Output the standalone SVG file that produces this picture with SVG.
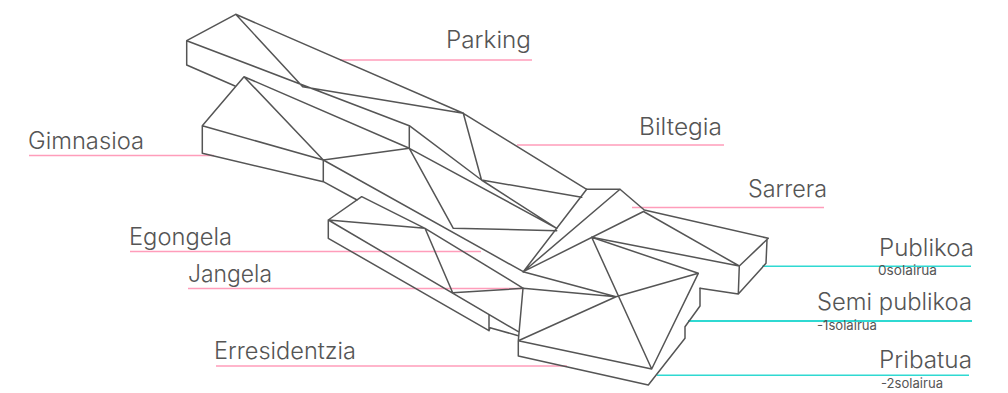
<svg xmlns="http://www.w3.org/2000/svg" width="1008" height="393" viewBox="0 0 1008 393">
<style>
.b{fill:none;stroke:#555;stroke-width:1.5;stroke-linejoin:round;stroke-linecap:round}
.p{fill:none;stroke:#ff9dba;stroke-width:1.4}
.t{fill:none;stroke:#2fd9d2;stroke-width:1.4}
.t2{stroke-width:2}
text{font-family:"Inter","Noto Sans","Liberation Sans",sans-serif;font-weight:300;fill:#555;font-size:23.500px}
.s{font-size:13px;font-weight:400}
</style>
<rect width="1008" height="393" fill="#fff"/>
<g id="connectors">
<path class="p" d="M340 60H532"/>
<path class="p" d="M517 145H724"/>
<path class="p" d="M632 207.500H824"/>
<path class="p" d="M29 155.500H214"/>
<path class="p" d="M130 251.500H481"/>
<path class="p" d="M188 288.500H523"/>
<path class="p" d="M216 366H567"/>
<path class="t" d="M762 266.300H971"/>
<path class="t t2" d="M688 321H972"/>
<path class="t" d="M657 375.300H969"/>
</g>
<g id="parking">
<path class="b" d="M235.700 14.300L186.700 40.700V65L235 86M235.700 14.300L463.300 113.300L302.700 86.700L235.700 14.300M186.700 40.700L409.300 125.700V148.300"/>
</g>
<g id="gimnasioa">
<path class="b" d="M244 76.700L202.300 125.700V153.300L323.300 181.700V160L202.300 125.700M244 76.700L323.300 160L409.300 148.300L244 76.700M323.300 181.700L357 200"/>
</g>
<g id="biltegia">
<path class="b" d="M463.300 113.300L586.700 189.300M463.300 113.300L481.500 180L581.700 197.300M409.300 125.700L481.500 180L556.700 228.300M409.300 148.300L556.700 228.300M409.300 148.300L453.300 228.300L556.700 230.700"/>
</g>
<g id="sarrera">
<path class="b" d="M586.700 189.300H620L644.300 210L768.300 238.300L739.300 266L738.300 294L766 263.300L767 240M586.700 189.300L523.300 271.700L620 189.300M523.300 271.700L643.500 211.500L739.300 266M591.700 237.300L739.300 266M738.300 294L700 288.300"/>
</g>
<g id="egongela">
<path class="b" d="M323.300 160L523.300 271.700M361.700 196.700L328.300 220V238.300L489 330.700V315M361.700 196.700L425 228.300L523.300 288.300M328.300 220L425 228.300L452.700 292.700L523.300 288.300M328.300 220L518.300 331.700M489 330.700L490 327.700L518.300 335.700"/>
</g>
<g id="erresidentzia">
<path class="b" d="M523 271.700L616 296.700L698.300 273.300L651.700 369L518.300 340.700L616 296.700L523 288.300L518.300 340.700V356L648.300 385L685 338.300V326.700L700 306V288.300M591.700 237.300L698.300 273.300M591.700 237.300L651.700 369"/>
</g>
<g id="label-parking"><text x="446" y="48" textLength="85" lengthAdjust="spacingAndGlyphs">Parking</text></g>
<g id="label-biltegia"><text x="639" y="135" textLength="83" lengthAdjust="spacingAndGlyphs">Biltegia</text></g>
<g id="label-sarrera"><text x="748" y="197" textLength="79" lengthAdjust="spacingAndGlyphs">Sarrera</text></g>
<g id="label-gimnasioa"><text x="28" y="148.500" textLength="116" lengthAdjust="spacingAndGlyphs">Gimnasioa</text></g>
<g id="label-egongela"><text x="129" y="245" textLength="103" lengthAdjust="spacingAndGlyphs">Egongela</text></g>
<g id="label-jangela"><text x="188" y="282" textLength="84" lengthAdjust="spacingAndGlyphs">Jangela</text></g>
<g id="label-erresidentzia"><text x="214" y="359" textLength="142" lengthAdjust="spacingAndGlyphs">Erresidentzia</text></g>
<g id="label-publikoa"><text x="879" y="256" textLength="95" lengthAdjust="spacingAndGlyphs">Publikoa</text><text class="s" x="878" y="275" textLength="59" lengthAdjust="spacingAndGlyphs">0solairua</text></g>
<g id="label-semi"><text x="817" y="310" textLength="155" lengthAdjust="spacingAndGlyphs">Semi publikoa</text><text class="s" x="817" y="330" textLength="60" lengthAdjust="spacingAndGlyphs">-1solairua</text></g>
<g id="label-pribatua"><text x="879" y="368" textLength="93" lengthAdjust="spacingAndGlyphs">Pribatua</text><text class="s" x="881" y="388" textLength="62" lengthAdjust="spacingAndGlyphs">-2solairua</text></g>
</svg>
